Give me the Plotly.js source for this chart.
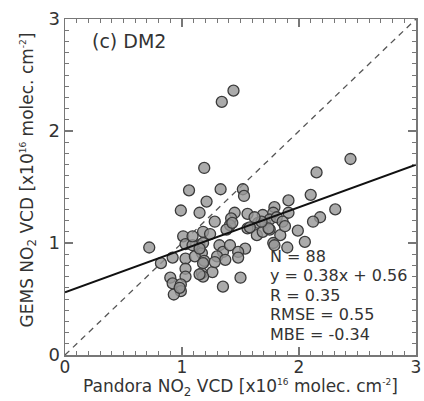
<!DOCTYPE html>
<html>
<head>
<meta charset="utf-8">
<script src="https://cdn.plot.ly/plotly-3.0.1.min.js"></script>
<style>html,body{margin:0;padding:0;background:#fff;}</style>
</head>
<body>
<div id="chart" style="width:424px;height:401px;"></div>
<script>
const pandoraX = [1.44,1.34,1.19,2.44,2.15,1.06,1.33,1.52,1.53,1.21,2.10,1.91,0.99,1.15,1.45,1.56,1.69,1.79,1.78,1.91,2.31,2.18,2.12,1.28,1.42,1.41,1.65,1.71,1.75,1.81,1.86,1.01,1.18,1.24,1.38,1.56,1.64,1.69,1.75,1.84,1.99,1.03,0.72,1.15,1.17,1.32,1.35,1.41,1.78,2.05,1.90,1.54,1.48,1.48,0.92,0.82,1.03,1.11,1.19,1.30,1.37,1.03,1.26,1.17,1.03,1.18,0.90,0.92,0.99,1.35,1.50,0.99,0.93,1.09,1.18,1.74,1.58,1.68,1.15,1.79,1.15,0.98,1.18,1.43,1.09,1.28,1.62,1.88];
const gemsY = [2.36,2.26,1.67,1.75,1.63,1.47,1.48,1.48,1.42,1.37,1.43,1.38,1.29,1.27,1.27,1.26,1.25,1.32,1.27,1.27,1.30,1.23,1.19,1.19,1.22,1.16,1.18,1.18,1.21,1.23,1.19,1.06,1.10,1.08,1.12,1.13,1.07,1.10,1.12,1.07,1.11,0.99,0.96,0.98,0.91,0.98,0.92,0.98,1.00,1.01,0.96,0.95,0.92,0.87,0.87,0.82,0.86,0.88,0.84,0.88,0.85,0.77,0.74,0.73,0.70,0.70,0.69,0.64,0.63,0.61,0.69,0.57,0.54,0.98,1.00,1.13,1.14,1.19,0.72,0.98,0.95,0.60,0.82,1.18,1.06,0.83,1.23,1.15];
const fitSlope = 0.38, fitIntercept = 0.56;
const lineX = [0, 3];
const statLines = ["N = 88", "y = 0.38x + 0.56", "R = 0.35", "RMSE = 0.55", "MBE = -0.34"];
const panelLabel = "(c) DM2";
const supS = '<span style="font-size:9px">';
const xTitle = "Pandora NO<sub>2</sub> VCD [x10<sup>" + supS + "16</span></sup> molec. cm<sup>" + supS + "-2</span></sup>]";
const yTitle = "GEMS NO<sub>2</sub> VCD [x10<sup>" + supS + "16</span></sup> molec. cm<sup>" + supS + "-2</span></sup>]";

const font = "DejaVu Sans, Verdana, sans-serif";
const txt = "#333";
const traces = [
  {x: lineX, y: lineX, mode: "lines", line: {color: "#555", width: 1.3, dash: "6px,5px"}, hoverinfo: "skip"},
  {x: pandoraX, y: gemsY, mode: "markers", marker: {size: 11, color: "rgba(150,150,150,0.8)", line: {color: "#3a3a3a", width: 1.3}}},
  {x: lineX, y: lineX.map(v => fitSlope * v + fitIntercept), mode: "lines", line: {color: "#111", width: 2}, hoverinfo: "skip"}
];
const axisCommon = {
  range: [0, 3], dtick: 1, tick0: 0, ticks: "inside", ticklen: 8, tickwidth: 1.2, tickcolor: "#777",
  showline: true, linecolor: "#777", linewidth: 1.5, mirror: "ticks", showgrid: false, zeroline: false,
  minor: {dtick: 0.1, ticks: "inside", ticklen: 4, tickwidth: 1, tickcolor: "#777", showgrid: false},
  tickfont: {family: font, size: 18, color: txt}, fixedrange: true
};
const annotations = [
  {xref: "paper", yref: "paper", x: 0.07, y: 0.935, xanchor: "left", yanchor: "middle", text: panelLabel, showarrow: false, font: {family: font, size: 19, color: txt}},
  {xref: "paper", yref: "paper", x: 0.499, y: -0.134, xanchor: "center", yanchor: "bottom", borderpad: 0, text: xTitle, showarrow: false, font: {family: font, size: 17, color: txt}},
  {xref: "paper", yref: "paper", x: -0.105, y: 0.52, xanchor: "center", yanchor: "middle", textangle: -90, text: yTitle, showarrow: false, font: {family: font, size: 17, color: txt}}
];
statLines.forEach((s, i) => {
  annotations.push({xref: "paper", yref: "paper", x: 0.578, y: 0.294 - i * 0.058, xanchor: "left", yanchor: "middle", text: s, showarrow: false, font: {family: font, size: 16, color: txt}});
});
const layout = {
  width: 424, height: 401, margin: {l: 65, r: 8, t: 19, b: 46},
  paper_bgcolor: "#fff", plot_bgcolor: "#fff", showlegend: false,
  xaxis: Object.assign({}, axisCommon, {tickfont: {family: font, size: 17, color: txt}, ticklabelstandoff: -4}),
  yaxis: Object.assign({}, axisCommon),
  annotations: annotations
};
Plotly.newPlot("chart", traces, layout, {staticPlot: true, displayModeBar: false});
</script>
</body>
</html>
